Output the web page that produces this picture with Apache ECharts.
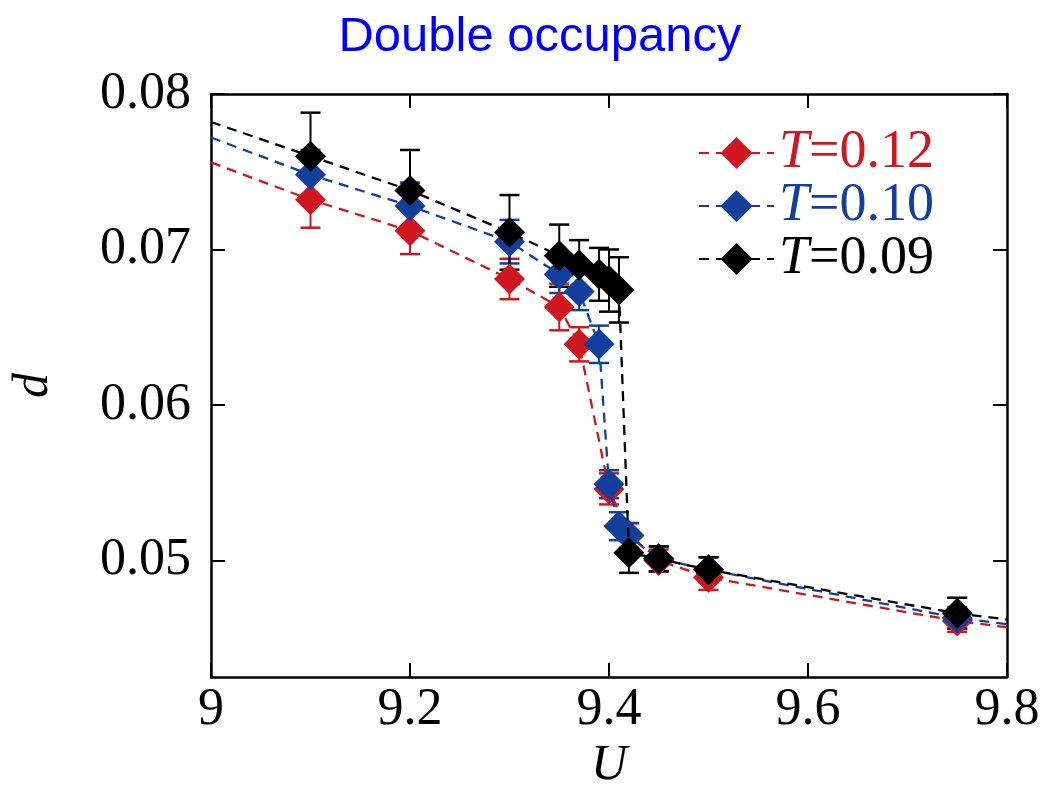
<!DOCTYPE html>
<html>
<head>
<meta charset="utf-8">
<script src="https://cdn.jsdelivr.net/npm/echarts@6/dist/echarts.min.js"></script>
<style>html,body{margin:0;padding:0;background:#fff}#c{width:1043px;height:786px}</style>
</head>
<body>
<div id="c"></div>
<script>
// ---- data ----
const xTicks = [9, 9.2, 9.4, 9.6, 9.8];
const yTicks = [0.05, 0.06, 0.07, 0.08];

const seriesNames = ['T=0.12', 'T=0.10', 'T=0.09'];

const U_red = [9.1, 9.2, 9.3, 9.35, 9.37, 9.40, 9.42, 9.45, 9.5, 9.75];
const d_red = [0.0732, 0.0712, 0.0681, 0.0663, 0.0639, 0.0546, 0.0516, 0.0500, 0.0489, 0.0461];
const e_red = [0.0018, 0.0015, 0.0013, 0.0015, 0.0011, 0.0010, 0.0008, 0.0007, 0.0008, 0.0007];

const U_blue = [9.1, 9.2, 9.3, 9.35, 9.37, 9.39, 9.40, 9.41, 9.42, 9.45, 9.5, 9.75];
const d_blue = [0.0748, 0.0728, 0.0705, 0.0684, 0.0673, 0.0639, 0.0549, 0.0522, 0.0516, 0.0501, 0.0494, 0.0463];
const e_blue = [0.0016, 0.0015, 0.0014, 0.0012, 0.0012, 0.0012, 0.0009, 0.0009, 0.0008, 0.0008, 0.0008, 0.0007];

const U_black = [9.1, 9.2, 9.3, 9.35, 9.37, 9.39, 9.40, 9.41, 9.42, 9.45, 9.5, 9.75];
const d_black = [0.0760, 0.0738, 0.0711, 0.0696, 0.0690, 0.0684, 0.0680, 0.0674, 0.0505, 0.0501, 0.0494, 0.0466];
const e_black = [0.0028, 0.0026, 0.0024, 0.0020, 0.0016, 0.0017, 0.0020, 0.0021, 0.0013, 0.0008, 0.0008, 0.0010];

// dashed guide lines extend to the frame edges (U=9 and U=9.8)
const lineStart = [0.0756, 0.0772, 0.0782];
const lineEnd = [0.0457, 0.0459, 0.0462];

// ---- styling ----
const RED = '#d0161e', BLUE = '#123f9b', BLACK = '#000000';
const SERIF = "'Liberation Serif','Times New Roman',serif";

function lineSeries(name, U, d, i, color) {
  const data = [{value: [9, lineStart[i]], symbol: 'none'}];
  U.forEach((u, k) => data.push([u, d[k]]));
  data.push({value: [9.8, lineEnd[i]], symbol: 'none'});
  return {
    type: 'line', name: name, data: data,
    symbol: 'diamond', symbolSize: 31,
    lineStyle: {type: [10, 7], width: 2.3, color: color},
    itemStyle: {color: color},
    emphasis: {disabled: true},
    z: 3 + i
  };
}
function errSeries(name, U, d, e, i, color) {
  return {
    type: 'custom', name: name + ' err',
    data: U.map((u, k) => [u, d[k], e[k]]),
    encode: {x: 0, y: 1},
    z: 2,
    silent: true,
    renderItem: function (params, api) {
      const x = api.value(0), y = api.value(1), er = api.value(2);
      const t = api.coord([x, y + er]), b = api.coord([x, y - er]);
      const hw = 10;
      const st = {stroke: color, lineWidth: 2};
      return {type: 'group', children: [
        {type: 'line', shape: {x1: t[0], y1: t[1], x2: b[0], y2: b[1]}, style: st},
        {type: 'line', shape: {x1: t[0] - hw, y1: t[1], x2: t[0] + hw, y2: t[1]}, style: {stroke: color, lineWidth: 2.5}},
        {type: 'line', shape: {x1: b[0] - hw, y1: b[1], x2: b[0] + hw, y2: b[1]}, style: {stroke: color, lineWidth: 2.5}}
      ]};
    }
  };
}

const colors = [RED, BLUE, BLACK];
const chart = echarts.init(document.getElementById('c'));
const axisLineStyle = {color: '#000', width: 2.5};
chart.setOption({
  animation: false,
  backgroundColor: '#fff',
  title: {
    text: 'Double occupancy', left: 535, top: 8, textAlign: 'center',
    textStyle: {color: '#0000ff', fontFamily: "'Liberation Sans',Arial,sans-serif", fontSize: 49, fontWeight: 'normal'}
  },
  grid: {left: 211, top: 94, right: 36, bottom: 109, containLabel: false, outerBoundsMode: 'none'},
  legend: {
    left: 693, top: 121, orient: 'vertical',
    itemWidth: 75, itemHeight: 40, itemGap: -1,
    data: seriesNames.map((n, i) => ({name: n, textStyle: {color: colors[i]}})),
    formatter: function (name) { return '{i|T}{n|' + name.slice(1) + '}'; },
    textStyle: {
      fontFamily: SERIF, fontSize: 54, lineHeight: 40,
      rich: {
        i: {fontStyle: 'italic', fontFamily: SERIF, fontSize: 54, lineHeight: 40},
        n: {fontFamily: SERIF, fontSize: 54, lineHeight: 40}
      }
    },
    selectedMode: false
  },
  xAxis: [{
    type: 'value', min: 9, max: 9.8, interval: 0.2, position: 'bottom',
    name: 'U', nameLocation: 'middle', nameGap: 62,
    nameTextStyle: {fontFamily: SERIF, fontSize: 50, fontStyle: 'italic', color: '#000'},
    axisLine: {show: true, onZero: false, lineStyle: axisLineStyle},
    axisTick: {show: true, inside: true, length: 14, lineStyle: {color: '#000', width: 2}},
    axisLabel: {show: true, margin: 7, fontFamily: SERIF, fontSize: 52, color: '#000',
      customValues: xTicks, formatter: v => String(Math.round(v * 10) / 10)},
    splitLine: {show: false}
  }, {
    type: 'value', min: 9, max: 9.8, interval: 0.2, position: 'top',
    axisLine: {show: true, onZero: false, lineStyle: axisLineStyle},
    axisTick: {show: true, inside: true, length: 14, lineStyle: {color: '#000', width: 2}},
    axisLabel: {show: false}, splitLine: {show: false}
  }],
  yAxis: [{
    type: 'value', min: 0.0425, max: 0.08, position: 'left',
    name: 'd', nameLocation: 'middle', nameGap: 152, nameRotate: 90,
    nameTextStyle: {fontFamily: SERIF, fontSize: 50, fontStyle: 'italic', color: '#000'},
    axisLine: {show: true, onZero: false, lineStyle: axisLineStyle},
    axisTick: {show: true, inside: true, length: 14, customValues: yTicks, lineStyle: {color: '#000', width: 2}},
    axisLabel: {show: true, margin: 20, fontFamily: SERIF, fontSize: 52, color: '#000',
      customValues: yTicks, formatter: v => v.toFixed(2)},
    splitLine: {show: false}
  }, {
    type: 'value', min: 0.0425, max: 0.08, position: 'right',
    axisLine: {show: true, onZero: false, lineStyle: axisLineStyle},
    axisTick: {show: true, inside: true, length: 14, customValues: yTicks, lineStyle: {color: '#000', width: 2}},
    axisLabel: {show: false}, splitLine: {show: false}
  }],
  series: [
    errSeries(seriesNames[0], U_red, d_red, e_red, 0, RED),
    errSeries(seriesNames[1], U_blue, d_blue, e_blue, 1, BLUE),
    errSeries(seriesNames[2], U_black, d_black, e_black, 2, BLACK),
    lineSeries(seriesNames[0], U_red, d_red, 0, RED),
    lineSeries(seriesNames[1], U_blue, d_blue, 1, BLUE),
    lineSeries(seriesNames[2], U_black, d_black, 2, BLACK)
  ]
});
</script>
</body>
</html>
